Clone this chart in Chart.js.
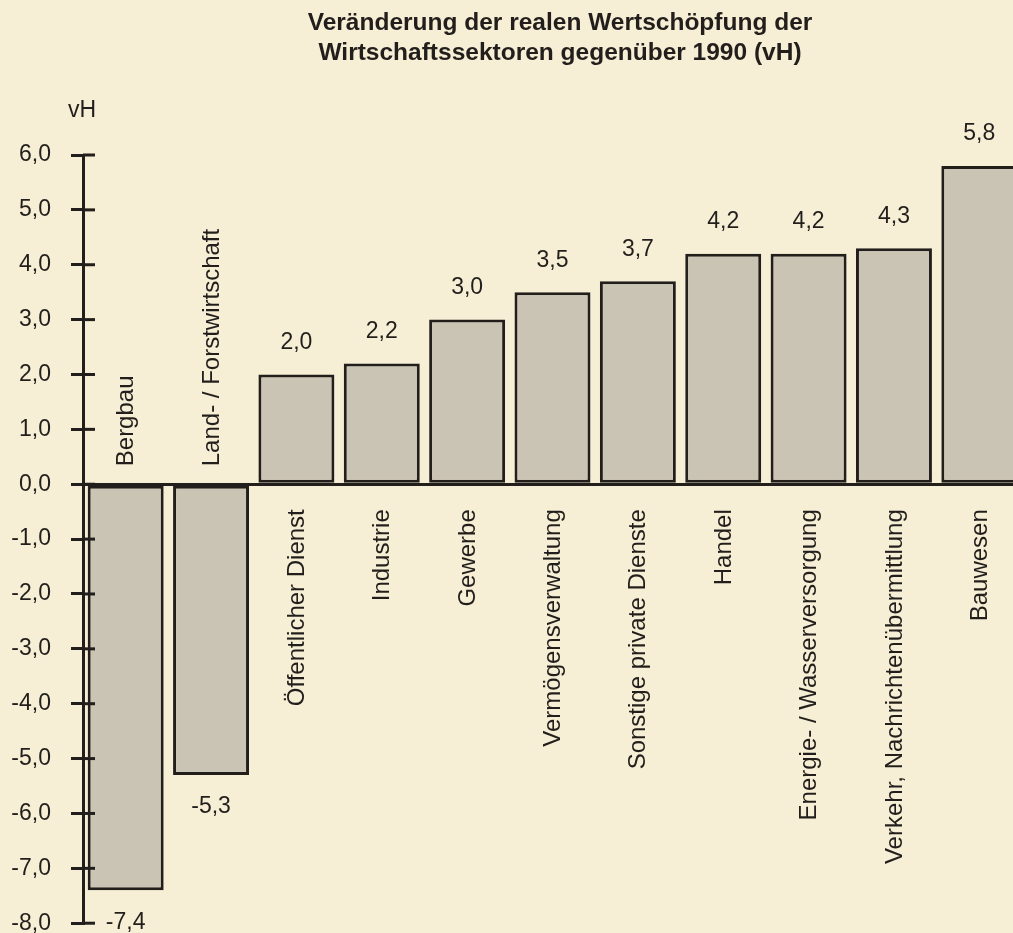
<!DOCTYPE html>
<html lang="de">
<head>
<meta charset="utf-8">
<title>Veränderung der realen Wertschöpfung</title>
<script src="https://cdn.jsdelivr.net/npm/chart.js@4.4.1/dist/chart.umd.min.js"></script>
<style>
  html, body { margin: 0; padding: 0; background: #f6eed5; overflow: hidden; }
  #wrap { position: relative; width: 1022px; height: 957px; }
</style>
</head>
<body>
<div id="wrap"><canvas id="chart"></canvas></div>
<script>
// Daten: Veränderung gegenüber 1990 (vH)
const sectors = [
    'Bergbau', 'Land- / Forstwirtschaft', 'Öffentlicher Dienst', 'Industrie', 'Gewerbe',
    'Vermögensverwaltung', 'Sonstige private Dienste', 'Handel',
    'Energie- / Wasserversorgung', 'Verkehr, Nachrichtenübermittlung', 'Bauwesen'
];
const changes = [-7.4, -5.3, 2.0, 2.2, 3.0, 3.5, 3.7, 4.2, 4.2, 4.3, 5.8];
const titleLines = ['Veränderung der realen Wertschöpfung der', 'Wirtschaftssektoren gegenüber 1990 (vH)'];
const unitLabel = 'vH';

const ink = '#221e1b';
const barFill = '#cac4b5';
const fontFam = '"Liberation Sans", Arial, Helvetica, sans-serif';

const fmt = v => v.toFixed(1).replace('.', ',');

/* ---- eigene Beschriftungen (Titel, Werte, Kategorien im Diagramm) ---- */
const labelPlugin = {
    id: 'labels',
    afterDatasetsDraw(chart) {
        const { ctx, scales: { x, y } } = chart;
        const zero = y.getPixelForValue(0);
        const axisX = chart.chartArea.left;

        ctx.save();
        ctx.fillStyle = ink;
        ctx.strokeStyle = ink;

        // Tick-Striche auch nach rechts über die Achse
        ctx.lineWidth = 3;
        y.ticks.forEach(t => {
            const py = y.getPixelForValue(t.value);
            ctx.beginPath();
            ctx.moveTo(axisX, py);
            ctx.lineTo(axisX + 12, py);
            ctx.stroke();
        });

        // Titel
        ctx.font = 'bold 24.5px ' + fontFam;
        ctx.textAlign = 'center';
        ctx.textBaseline = 'middle';
        ctx.fillText(titleLines[0], 560, 23);
        ctx.fillText(titleLines[1], 560, 53);

        // Einheit
        ctx.font = '23px ' + fontFam;
        ctx.fillText(unitLabel, 82, 111);

        // Werte über/unter den Balken
        const meta = chart.getDatasetMeta(0);
        ctx.font = '23px ' + fontFam;
        meta.data.forEach((bar, i) => {
            const v = changes[i];
            const py = v >= 0 ? bar.y - 32 : bar.y + 32;
            ctx.fillText(fmt(v), bar.x, py);
        });

        // Kategorien senkrecht
        ctx.font = '24px ' + fontFam;
        sectors.forEach((name, i) => {
            const cx = x.getPixelForValue(i) + 1;
            ctx.save();
            if (changes[i] < 0) {
                ctx.translate(cx, zero - 18);
                ctx.rotate(-Math.PI / 2);
                ctx.textAlign = 'left';
            } else {
                ctx.translate(cx, zero + 25);
                ctx.rotate(-Math.PI / 2);
                ctx.textAlign = 'right';
            }
            ctx.textBaseline = 'middle';
            ctx.fillText(name, 0, 0);
            ctx.restore();
        });

        ctx.restore();
    }
};

new Chart(document.getElementById('chart'), {
    type: 'bar',
    data: {
        labels: sectors,
        datasets: [{
            data: changes,
            backgroundColor: barFill,
            borderColor: ink,
            borderWidth: 3,
            borderSkipped: false,
            barPercentage: 0.89,
            categoryPercentage: 1.0
        }]
    },
    options: {
        responsive: true,
        maintainAspectRatio: false,
        animation: false,
        layout: { padding: { top: 155, bottom: 11, left: 0, right: 0 } },
        plugins: {
            legend: { display: false },
            title: { display: false },
            tooltip: { enabled: false }
        },
        scales: {
            x: { display: false },
            y: {
                min: -8,
                max: 6,
                afterFit: s => { s.width = 83; },
                ticks: {
                    stepSize: 1,
                    callback: v => fmt(v),
                    color: ink,
                    padding: 20,
                    font: { family: fontFam, size: 23 }
                },
                grid: {
                    color: c => (c.tick && c.tick.value === 0 ? ink : 'rgba(0,0,0,0)'),
                    tickColor: ink,
                    lineWidth: 3,
                    tickLength: 12
                },
                border: { color: ink, width: 3 }
            }
        }
    },
    plugins: [labelPlugin]
});
</script>
</body>
</html>
